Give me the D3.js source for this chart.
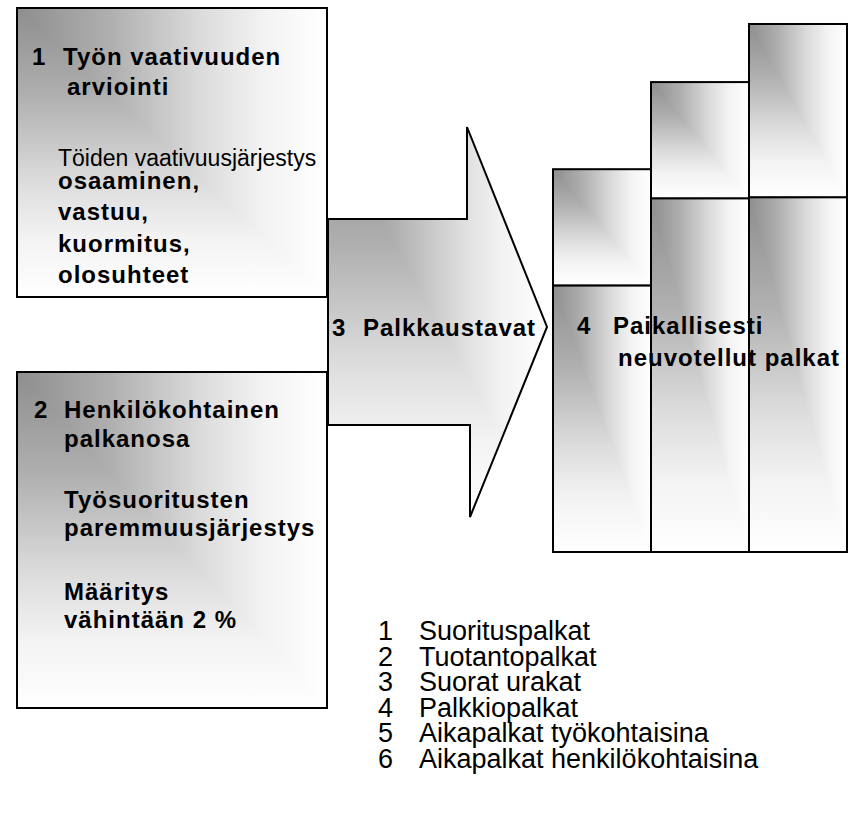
<!DOCTYPE html>
<html>
<head>
<meta charset="utf-8">
<script src="https://cdn.jsdelivr.net/npm/d3@7"></script>
<style>
  body { margin: 0; background: #fff; }
  text { font-family: "Liberation Sans", Arial, sans-serif; fill: #000; }
  .bold { font-weight: bold; font-size: 24px; letter-spacing: 1px; }
  .plain { font-size: 23px; }
  .legend { font-size: 27px; }
</style>
</head>
<body>
<svg id="chart" width="856" height="828"></svg>
<script>
// --- data ---
const barIds = [ 'a', 'b', 'c' ]
const baseValues = [ 50.5, 67, 67.2 ]
const topValues = [ 22, 22, 32.8 ]

const box1Title = [ 'Työn vaativuuden', 'arviointi' ]
const box1Sub = 'Töiden vaativuusjärjestys'
const box1Items = [ 'osaaminen,', 'vastuu,', 'kuormitus,', 'olosuhteet' ]

const box2Title = [ 'Henkilökohtainen', 'palkanosa' ]
const box2Body = [ 'Työsuoritusten', 'paremmuusjärjestys', 'Määritys', 'vähintään 2 %' ]

const arrowLabel = 'Palkkaustavat'
const barsLabel = [ 'Paikallisesti', 'neuvotellut palkat' ]

const legendNumbers = [ '1', '2', '3', '4', '5', '6' ]
const legendLabels = [ 'Suorituspalkat', 'Tuotantopalkat', 'Suorat urakat', 'Palkkiopalkat',
                       'Aikapalkat työkohtaisina', 'Aikapalkat henkilökohtaisina' ]

// --- layout ---
const svg = d3.select('#chart')
const defs = svg.append('defs')

const stops = [ [0, '#8e8e8e'], [0.3, '#afafaf'], [0.6, '#dcdcdc'], [0.8, '#f3f3f3'], [1, '#ffffff'] ]
const grad = ( id, x2, y2 ) => {
    const g = defs.append('linearGradient').attr('id', id)
        .attr('x1', 0).attr('y1', 0).attr('x2', x2).attr('y2', y2)
    g.selectAll('stop').data(stops).join('stop')
        .attr('offset', d => d[0]).attr('stop-color', d => d[1])
}
grad('gh', 1, 0)
grad('gv', 0, 1)

// shaded shape: horizontal + vertical ramps, lighter one wins -> corner shading
const shaded = ( parent, tag, attrs ) => {
    const g = parent.append('g').style('isolation', 'isolate')
    const a = g.append(tag).attr('fill', 'url(#gh)')
    const b = g.append(tag).attr('fill', 'url(#gv)').style('mix-blend-mode', 'lighten')
    const c = g.append(tag).attr('fill', 'none').attr('stroke', '#000').attr('stroke-width', 2)
    ;[ a, b, c ].forEach( s => Object.entries(attrs).forEach( ([k, v]) => s.attr(k, v) ) )
    return g
}

const rectAttrs = ( x0, y0, x1, y1 ) => ( { x: x0, y: y0, width: x1 - x0, height: y1 - y0 } )

// boxes 1 and 2
shaded( svg, 'rect', rectAttrs( 17, 8, 327, 297 ) )
shaded( svg, 'rect', rectAttrs( 17, 372, 327, 708 ) )

// arrow
const arrowPts = [ [328, 219], [467, 219], [467, 127], [547, 327], [470, 517], [470, 425], [328, 425] ]
shaded( svg, 'path', { d: d3.line()( arrowPts ) + 'Z' } )

// bars
const x = d3.scaleBand().domain( barIds ).range( [ 553, 847 ] ).padding( 0 )
const y = d3.scaleLinear().domain( [ 0, 100 ] ).range( [ 552, 24 ] )

barIds.forEach( ( id, i ) => {
    const x0 = x(id), x1 = x(id) + x.bandwidth()
    const split = y( baseValues[i] )
    const top = y( baseValues[i] + topValues[i] )
    shaded( svg, 'rect', rectAttrs( x0, split, x1, y(0) ) )
    shaded( svg, 'rect', rectAttrs( x0, top, x1, split ) )
} )

// --- text ---
const txt = ( cls, xx, yy, s ) => svg.append('text').attr('class', cls).attr('x', xx).attr('y', yy).text( s )

txt( 'bold', 32, 65, '1' )
txt( 'bold', 63, 65, box1Title[0] )
txt( 'bold', 67, 95, box1Title[1] )
txt( 'plain', 58, 166, box1Sub )
box1Items.forEach( ( s, i ) => txt( 'bold', 58, 189 + i * 31.4, s ) )

txt( 'bold', 34, 418, '2' )
txt( 'bold', 64, 418, box2Title[0] )
txt( 'bold', 64, 447, box2Title[1] )
const body2Y = [ 508, 536, 600, 628 ]
box2Body.forEach( ( s, i ) => txt( 'bold', 64, body2Y[i], s ) )

txt( 'bold', 332, 336, '3' )
txt( 'bold', 363, 336, arrowLabel )

txt( 'bold', 577, 334, '4' )
txt( 'bold', 613, 334, barsLabel[0] )
txt( 'bold', 618, 366, barsLabel[1] )

legendLabels.forEach( ( s, i ) => {
    txt( 'legend', 378, 640 + i * 25.5, legendNumbers[i] )
    txt( 'legend', 419, 640 + i * 25.5, s )
} )
</script>
</body>
</html>
